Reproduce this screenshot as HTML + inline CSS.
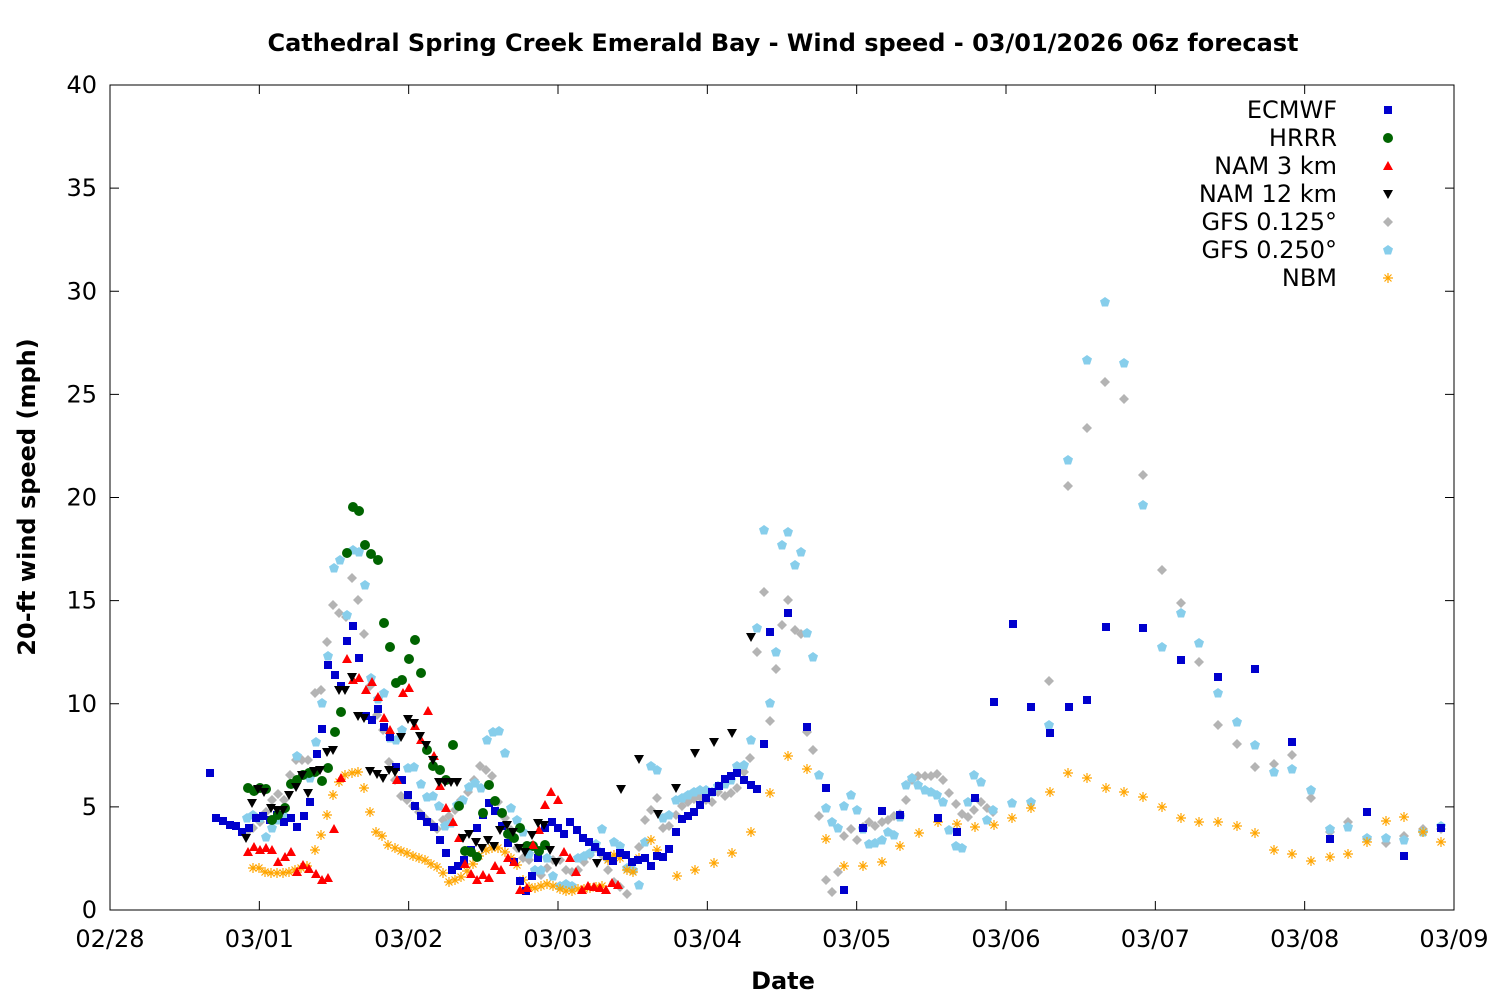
<!DOCTYPE html>
<html><head><meta charset="utf-8"><style>
html,body{margin:0;padding:0;background:#fff}
svg text{font-family:"DejaVu Sans","Liberation Sans",sans-serif}
</style></head><body>
<svg id="s" width="1500" height="1000" xmlns="http://www.w3.org/2000/svg">
<rect width="1500" height="1000" fill="#fff"/>
<text x="783" y="51" font-size="24" font-weight="bold" text-anchor="middle">Cathedral Spring Creek Emerald Bay - Wind speed - 03/01/2026 06z forecast</text>
<text x="783" y="989" font-size="24" font-weight="bold" text-anchor="middle">Date</text>
<text transform="translate(35,497) rotate(-90)" font-size="24" font-weight="bold" text-anchor="middle">20-ft wind speed (mph)</text>
<g id="ax"></g>
<g id="pts"></g>
<rect x="110" y="85" width="1344" height="825" fill="none" stroke="#000" stroke-width="1"/>
</svg>
<script>
var NS="http://www.w3.org/2000/svg",ax=document.getElementById('ax'),P=document.getElementById('pts');
function el(t,a,p,txt){var e=document.createElementNS(NS,t);for(var k in a)e.setAttribute(k,a[k]);if(txt!==undefined)e.textContent=txt;(p||P).appendChild(e);return e;}
for(var i=0;i<=8;i++){var y=910-i*103.125;
 el('line',{x1:110,x2:119,y1:y,y2:y,stroke:'#000'},ax);el('line',{x1:1445,x2:1454,y1:y,y2:y,stroke:'#000'},ax);
 el('text',{x:97,y:y+8,'font-size':24,'text-anchor':'end'},ax,String(i*5));}
var dl=['02/28','03/01','03/02','03/03','03/04','03/05','03/06','03/07','03/08','03/09'];
for(var i=0;i<10;i++){var x=110+i*1344/9;
 el('line',{x1:x,x2:x,y1:910,y2:901,stroke:'#000'},ax);el('line',{x1:x,x2:x,y1:85,y2:94,stroke:'#000'},ax);
 el('text',{x:x,y:947,'font-size':24,'text-anchor':'middle'},ax,dl[i]);}
function parse(s){return s.trim().split(';').map(function(p){return p.trim().split(',').map(Number);});}
function sq(x,y,c){el('rect',{x:x-4,y:y-4,width:8,height:8,fill:c});}
function ci(x,y,c){el('circle',{cx:x,cy:y,r:5,fill:c});}
function tu(x,y,c){el('polygon',{points:(x-5)+','+(y+4)+' '+(x+5)+','+(y+4)+' '+x+','+(y-5),fill:c});}
function td(x,y,c){el('polygon',{points:(x-5)+','+(y-4)+' '+(x+5)+','+(y-4)+' '+x+','+(y+5),fill:c});}
function di(x,y,c){el('polygon',{points:x+','+(y-5)+' '+(x+5)+','+y+' '+x+','+(y+5)+' '+(x-5)+','+y,fill:c});}
function pe(x,y,c){el('polygon',{points:x+','+(y-5)+' '+(x+5)+','+(y-1.5)+' '+(x+3)+','+(y+4.5)+' '+(x-3)+','+(y+4.5)+' '+(x-5)+','+(y-1.5),fill:c});}
function as(x,y,c){var g='M'+(x-5)+','+y+'H'+(x+5)+'M'+x+','+(y-5)+'V'+(y+5)+'M'+(x-3.5)+','+(y-3.5)+'L'+(x+3.5)+','+(y+3.5)+'M'+(x-3.5)+','+(y+3.5)+'L'+(x+3.5)+','+(y-3.5);el('path',{d:g,stroke:c,'stroke-width':1.2,fill:'none'});}
var S=[
['GFS 0.125°',di,'#b4b4b4',"247,832;253,828;260,822;266,812;272,800;278,794;284,800;290,775;296,760;302,760;308,760;315,693;321,690;327,642;333,605;339,613;346,617;352,578;358,600;364,634;370,686;377,715;383,730;389,762;395,780;401,796;407,800;413,806;419,812;425,818;431,823;437,829;443,820;449,816;455,810;461,800;468,792;474,780;480,766;486,770;492,776;498,802;505,818;511,830;517,848;523,858;529,860;535,870;541,875;547,868;553,860;560,860;566,870;572,872;578,870;584,862;590,855;596,848;602,855;608,870;614,882;620,887;627,894;633,870;639,847;645,820;651,810;657,798;663,828;669,826;676,815;682,806;688,802;694,799;700,797;706,800;712,802;718,792;725,796;731,793;737,788;744,772;750,758;757,652;764,592;770,721;776,669;782,625;788,600;795,630;801,634;807,732;813,750;819,816;826,880;832,892;838,872;844,836;851,829;857,840;863,827;869,822;875,826;882,822;888,820;894,816;900,814;906,800;912,780;918,776;925,776;931,776;937,774;943,780;949,793;956,804;962,814;968,817;974,810;981,802;987,808;993,812;1049,681;1068,486;1087,428;1105,382;1124,399;1143,475;1162,570;1181,603;1199,662;1218,725;1237,744;1255,767;1274,764;1292,755;1311,798;1330,832;1348,822;1367,839;1386,843;1404,836;1423,829;1441,829"],
['GFS 0.250°',pe,'#87ceeb',"247,818;253,815;260,818;266,837;272,828;278,820;284,816;291,784;297,756;303,775;310,778;316,742;322,703;328,656;334,568;340,560;347,615;353,550;359,552;365,585;371,678;378,699;384,693;390,738;396,740;402,730;408,768;414,767;421,784;427,797;433,796;439,806;445,826;451,823;457,805;463,800;469,787;475,783;481,788;487,740;493,732;499,731;505,753;511,808;517,820;523,832;529,854;535,870;541,870;547,858;553,876;560,886;566,884;572,886;578,858;584,856;590,853;596,844;602,829;608,858;614,842;620,846;627,868;633,870;639,885;645,842;651,766;657,770;663,818;669,815;676,800;682,798;688,795;694,792;700,790;706,790;712,792;718,786;725,784;731,780;737,766;744,765;751,740;757,628;764,530;770,703;776,652;782,545;788,532;795,565;801,552;807,633;813,657;819,775;826,808;832,822;838,828;844,806;851,795;857,810;863,829;869,844;875,843;882,840;888,832;894,835;900,817;906,785;912,778;918,785;925,790;931,792;937,795;943,802;949,830;956,846;962,848;968,802;974,775;981,782;987,820;993,810;1012,803;1031,802;1049,725;1068,460;1087,360;1105,302;1124,363;1143,505;1162,647;1181,613;1199,643;1218,693;1237,722;1255,745;1274,772;1292,769;1311,790;1330,829;1348,827;1367,838;1386,838;1404,840;1423,832;1441,826"],
['NBM',as,'#ffa500',"253,868;259,868;265,872;271,873;277,873;283,873;289,872;295,870;301,868;307,866;315,850;321,835;327,815;333,795;339,782;345,775;352,773;358,772;364,788;370,812;376,832;382,836;388,845;395,848;401,851;407,853;413,856;419,858;425,860;431,864;437,867;443,873;449,882;455,880;461,877;467,871;473,864;479,856;486,850;492,848;498,848;505,852;511,858;517,865;523,880;529,887;535,888;541,886;547,884;553,886;560,889;566,891;572,891;578,889;584,889;590,888;596,887;602,886;608,860;614,855;620,858;627,870;633,872;639,858;651,840;657,850;677,876;695,870;714,863;732,853;751,832;770,793;788,756;807,769;826,839;844,866;863,866;882,862;900,846;919,833;938,822;957,824;975,827;994,825;1012,818;1031,808;1050,792;1068,773;1087,778;1106,788;1124,792;1143,797;1162,807;1181,818;1199,822;1218,822;1237,826;1255,833;1274,850;1292,854;1311,861;1330,857;1348,854;1367,842;1386,821;1404,817;1423,832;1441,842"],
['ECMWF',sq,'#0000cd',"210,773;216,818;223,821;230,825;236,826;242,832;249,828;256,818;263,816;270,820;277,815;284,822;291,818;297,827;304,816;310,802;317,754;322,729;328,665;335,675;341,686;347,641;353,626;359,658;366,716;372,720;378,709;384,727;390,737;396,767;402,780;408,795;415,806;421,816;427,822;434,827;440,840;446,853;452,870;458,866;464,860;471,850;477,828;483,815;489,803;495,811;502,826;508,843;514,862;520,881;526,891;532,876;538,858;545,828;552,822;558,828;564,834;570,822;577,830;583,838;589,842;595,847;601,852;607,856;613,861;620,853;626,855;632,862;638,860;645,858;651,866;657,856;663,857;669,849;676,832;682,819;688,816;694,812;700,805;706,798;712,792;719,786;725,779;731,776;737,773;744,780;751,785;757,789;764,744;770,632;788,613;807,727;826,788;844,890;863,828;882,811;900,815;938,818;957,832;975,798;994,702;1013,624;1031,707;1050,733;1069,707;1087,700;1106,627;1143,628;1181,660;1218,677;1255,669;1292,742;1330,839;1367,812;1404,856;1441,828"],
['HRRR',ci,'#006400',"248,788;254,791;260,788;266,789;272,820;278,815;285,808;291,784;297,780;303,775;309,773;315,772;322,781;328,768;335,732;341,712;347,553;353,507;359,511;365,545;371,554;378,560;384,623;390,647;396,683;402,680;409,659;415,640;421,673;427,750;433,766;440,770;446,780;453,745;459,806;465,851;471,852;477,857;483,813;489,785;495,801;502,813;508,834;514,838;520,828;527,846;533,846;539,851;545,845"],
['NAM 3 km',tu,'#ff0000',"248,852;254,847;260,850;266,848;272,850;278,862;285,857;291,852;297,872;303,865;309,869;316,874;322,880;328,878;334,829;341,778;347,659;353,680;359,678;366,690;372,682;378,697;384,718;390,730;397,780;403,693;409,688;415,726;421,740;428,711;434,756;440,786;446,808;453,822;459,838;465,864;471,874;477,880;483,875;489,878;495,866;501,870;508,858;514,862;520,890;527,888;533,845;539,830;545,805;551,792;558,800;564,852;570,858;576,872;582,890;588,886;594,887;600,888;606,890;612,883;618,885"],
['NAM 12 km',td,'#000000',"246,838;252,803;258,789;264,792;271,808;277,810;283,810;289,795;296,787;302,775;308,793;314,771;320,770;327,752;333,750;339,690;345,690;352,677;358,716;364,718;370,771;377,774;383,778;389,770;395,772;401,737;408,719;414,723;420,736;426,745;433,760;439,782;445,782;451,782;457,782;463,838;469,834;476,842;482,848;488,840;494,846;500,830;507,825;513,832;519,848;525,852;532,835;538,823;544,825;550,850;556,862;597,863;621,789;639,759;658,814;676,788;695,753;714,742;732,733;751,637"]
];
S.forEach(function(s){parse(s[3]).forEach(function(p){s[1](p[0],p[1],s[2]);});});
var L=[['ECMWF',sq,'#0000cd'],['HRRR',ci,'#006400'],['NAM 3 km',tu,'#ff0000'],['NAM 12 km',td,'#000000'],['GFS 0.125°',di,'#b4b4b4'],['GFS 0.250°',pe,'#87ceeb'],['NBM',as,'#ffa500']];
L.forEach(function(l,i){var y=110+i*28;el('text',{x:1337,y:y+8,'font-size':24,'text-anchor':'end'},P,l[0]);l[1](1388,y,l[2]);});
</script>
</body></html>
